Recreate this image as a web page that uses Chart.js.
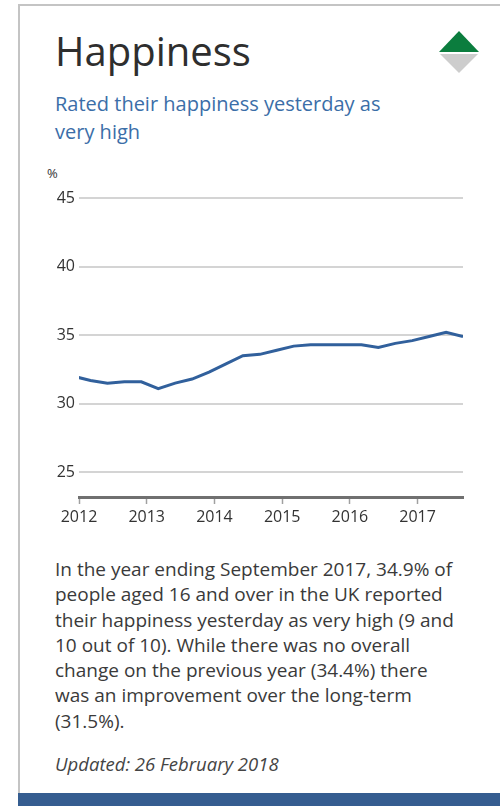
<!DOCTYPE html>
<html>
<head>
<meta charset="utf-8">
<script src="https://cdn.jsdelivr.net/npm/chart.js@4"></script>
<style>
  html, body { margin: 0; padding: 0; background: #fff; width: 500px; height: 806px; overflow: hidden; }
  body { position: relative; font-family: 'Open Sans', sans-serif; color: #333; }
  .card { position: absolute; left: 18px; top: 4px; width: 520px; height: 820px; border-top: 2px solid #c4c4c4; border-left: 2px solid #c4c4c4; box-sizing: border-box; }
  .title { position: absolute; left: 55px; top: 31px; font-size: 40px; line-height: 40px; color: #2e2e2e; white-space: nowrap; }
  .subtitle { position: absolute; left: 55px; top: 90px; font-size: 20px; line-height: 28px; color: #3b6ea8; white-space: nowrap; }
  .unit { position: absolute; left: 47px; top: 165px; font-size: 13px; line-height: 16px; color: #333; }
  .chart-box { position: absolute; left: 30px; top: 180px; width: 450px; height: 360px; }
  .body-text { position: absolute; left: 55px; top: 557px; font-size: 19px; line-height: 25.3px; color: #3a3a3a; white-space: nowrap; }
  .updated { position: absolute; left: 55px; top: 754px; font-size: 18.5px; line-height: 20px; font-style: italic; color: #444; white-space: nowrap; }
  .footer-bar { position: absolute; left: 18px; top: 793px; width: 482px; height: 13px; background: #355d90; }
  svg.trend { position: absolute; left: 0; top: 0; }
</style>
</head>
<body>
<div class="card"></div>
<div class="title">Happiness</div>
<svg class="trend" width="500" height="90">
  <polygon points="439,52 459,31 479,52" fill="#0b7d3e"></polygon>
  <polygon points="440,54 478,54 459,73" fill="#cdcdcd"></polygon>
</svg>
<div class="subtitle">Rated their happiness yesterday as<br>very high</div>
<div class="unit">%</div>
<div class="chart-box"><canvas id="happinessChart" width="450" height="360"></canvas></div>
<div class="body-text">In the year ending September 2017, 34.9% of<br>people aged 16 and over in the UK reported<br>their happiness yesterday as very high (9 and<br>10 out of 10). While there was no overall<br>change on the previous year (34.4%) there<br>was an improvement over the long-term<br>(31.5%).</div>
<div class="updated">Updated: 26 February 2018</div>
<div class="footer-bar"></div>

<script>
// Periodos (ano terminando em cada trimestre) em anos decimais
const periods = [2011.92, 2012.17, 2012.42, 2012.67, 2012.92, 2013.17, 2013.42, 2013.67,
                 2013.92, 2014.17, 2014.42, 2014.67, 2014.92, 2015.17, 2015.42, 2015.67,
                 2015.92, 2016.17, 2016.42, 2016.67, 2016.92, 2017.17, 2017.42, 2017.67];

// % que avaliaram a felicidade de ontem como muito alta
const happinessPct = [32.0, 31.7, 31.5, 31.6, 31.6, 31.1, 31.5, 31.8,
                      32.3, 32.9, 33.5, 33.6, 33.9, 34.2, 34.3, 34.3,
                      34.3, 34.3, 34.1, 34.4, 34.6, 34.9, 35.2, 34.9];

const xTicks = [2012, 2013, 2014, 2015, 2016, 2017];
const yTicks = [25, 30, 35, 40, 45];

Chart.defaults.font.family = "'Open Sans', sans-serif";
Chart.defaults.color = '#333';

const ctx = document.getElementById('happinessChart').getContext('2d');

new Chart(ctx, {
    type: 'line',
    data: {
        datasets: [{
            label: 'Happiness',
            data: periods.map((p, i) => ({ x: p, y: happinessPct[i] })),
            borderColor: '#31609c',
            borderWidth: 3,
            pointRadius: 0,
            tension: 0,
            fill: false,
            clip: 0
        }]
    },
    options: {
        responsive: false,
        animation: false,
        layout: { padding: { top: 18, right: 17, left: 0, bottom: 0 } },
        plugins: {
            legend: { display: false },
            tooltip: { enabled: false }
        },
        scales: {
            x: {
                type: 'linear',
                min: 2012,
                max: periods[periods.length - 1],
                afterBuildTicks: (scale) => { scale.ticks = xTicks.map(v => ({ value: v })); },
                afterFit: (scale) => { scale.height = 43; },
                grid: { drawOnChartArea: false, drawTicks: true, tickLength: 7, tickColor: '#a0a0a0', tickWidth: 1.5 },
                border: { display: true, color: '#707070', width: 3 },
                ticks: {
                    padding: 4,
                    color: '#333',
                    font: { size: 16 },
                    maxRotation: 0,
                    callback: (v) => String(v)
                }
            },
            y: {
                min: 23.2,
                max: 45,
                afterBuildTicks: (scale) => { scale.ticks = yTicks.map(v => ({ value: v })); },
                afterFit: (scale) => { scale.width = 49; },
                grid: { color: '#d4d4d4', lineWidth: 2, drawTicks: false },
                border: { display: false },
                ticks: {
                    padding: 4,
                    color: '#333',
                    font: { size: 16 },
                    callback: (v) => String(v)
                }
            }
        }
    }
});
</script>
</body>
</html>
